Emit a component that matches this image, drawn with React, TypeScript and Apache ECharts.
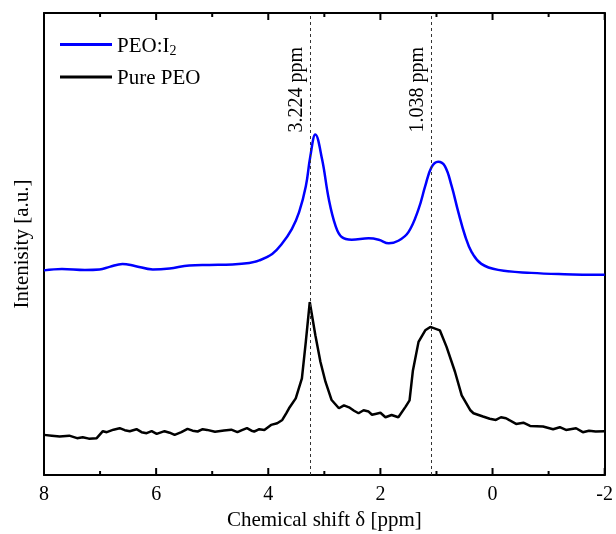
import React, { useEffect, useRef } from "react";
import * as echarts from "echarts";

// Chemical shift (ppm) and intensity (a.u.) for PEO:I2
const peoI2Shift = [8.0, 7.68, 7.27, 7.01, 6.83, 6.6, 6.38, 6.06, 5.76, 5.41, 5.05, 4.64, 4.34, 4.16, 3.93, 3.76, 3.58, 3.45, 3.33, 3.25, 3.16, 3.04, 2.92, 2.8, 2.69, 2.51, 2.21, 2.03, 1.85, 1.68, 1.5, 1.32, 1.2, 1.09, 0.97, 0.85, 0.73, 0.61, 0.49, 0.37, 0.2, -0.1, -0.69, -1.28, -2.0];
const peoI2Int = [205.5, 207, 206, 206.5, 209, 212, 210, 206.5, 207.5, 210.5, 211, 211.5, 213, 215.5, 222, 232, 247, 264, 290, 320, 342, 317, 277, 250.3, 239, 236.3, 237.7, 236.3, 232.7, 235.3, 244, 267, 290.3, 309, 314.7, 310.3, 290.3, 264, 240.3, 223.7, 212, 206, 203, 201.7, 201];

// Chemical shift (ppm) and intensity (a.u.) for pure PEO
const pureShift = [8.0, 7.86, 7.72, 7.55, 7.41, 7.31, 7.2, 7.06, 6.95, 6.88, 6.76, 6.65, 6.56, 6.47, 6.35, 6.26, 6.17, 6.08, 5.99, 5.85, 5.76, 5.67, 5.55, 5.44, 5.35, 5.26, 5.17, 5.09, 4.95, 4.79, 4.66, 4.55, 4.47, 4.38, 4.3, 4.25, 4.16, 4.07, 3.95, 3.84, 3.75, 3.68, 3.63, 3.51, 3.4, 3.33, 3.26, 3.16, 3.07, 2.98, 2.87, 2.74, 2.65, 2.56, 2.47, 2.39, 2.3, 2.21, 2.15, 2.09, 2.0, 1.91, 1.8, 1.68, 1.55, 1.48, 1.42, 1.32, 1.2, 1.11, 0.94, 0.82, 0.67, 0.55, 0.4, 0.34, 0.17, 0.05, -0.06, -0.15, -0.24, -0.42, -0.55, -0.67, -0.9, -1.08, -1.2, -1.31, -1.49, -1.61, -1.72, -1.84, -2.0];
const pureInt = [40.3, 39.5, 38.7, 39.5, 37, 38, 36.5, 37, 44, 43, 45.5, 47, 45, 44, 46, 43, 42, 44, 41.3, 44, 42.5, 40.3, 43, 46.3, 44.5, 43.7, 46, 45.3, 43.5, 44.7, 45.5, 43, 45, 47, 44.5, 43.7, 46, 45.3, 50.3, 52, 55.3, 62, 67, 77, 97, 134, 173.7, 140.3, 113.7, 93.7, 75.3, 67, 70, 68, 64.5, 62, 65, 63.7, 60.5, 61.3, 62.5, 58, 60.3, 58, 68.7, 75, 105, 133.7, 145.3, 148.7, 145.3, 128.7, 103.7, 80, 65.3, 62, 58.7, 56.5, 55.3, 58, 57, 51.3, 52.5, 49.3, 48.7, 46, 48, 45.3, 47, 43, 44.5, 43.7, 44];

// Reference peak lines
const peakShift = [3.26, 1.1];
const peakLabel = ["3.224 ppm", "1.038 ppm"];

// Axis ticks (ppm)
const majorTicks = [8, 6, 4, 2, 0, -2];
const minorTicks = [7, 5, 3, 1, -1];

const seriesNames = ["PEO:I2", "Pure PEO"];
const seriesColors = ["#0000ff", "#000000"];

const Y_MIN = 0;
const Y_MAX = 464;
const FONT = "'Liberation Serif', 'Times New Roman', serif";

export default function App() {
  const ref = useRef<HTMLDivElement>(null);
  useEffect(() => {
    if (!ref.current) return;
    const chart = echarts.init(ref.current, undefined, { renderer: "svg" });
    const zip = (xs: number[], ys: number[]) => xs.map((x, i) => [x, ys[i]]);
    const xCommon = {
      type: "value" as const,
      min: -2,
      max: 8,
      interval: 2,
      inverse: true,
      axisLine: { show: true, onZero: false, lineStyle: { color: "#000", width: 2 } },
      axisTick: { show: false },
      splitLine: { show: false },
    };
    const yCommon = {
      type: "value" as const,
      min: Y_MIN,
      max: Y_MAX,
      axisLine: { show: true, onZero: false, lineStyle: { color: "#000", width: 2 } },
      axisTick: { show: false },
      axisLabel: { show: false },
      splitLine: { show: false },
    };
    const tickData = [
      ...majorTicks.map((v) => [v, 7]),
      ...minorTicks.map((v) => [v, 4]),
    ];
    chart.setOption({
      animation: false,
      grid: { left: 44, right: 9, top: 13, bottom: 57 },
      legend: {
        orient: "vertical",
        left: 60,
        top: 34,
        padding: 0,
        itemWidth: 52,
        itemHeight: 14,
        itemGap: 9,
        icon: "path://M0,0 L52,0 L52,3 L0,3 Z",
        data: seriesNames,
        textStyle: {
          fontFamily: FONT,
          fontSize: 21,
          color: "#000",
          rich: {
            sub: { fontFamily: FONT, fontSize: 14, verticalAlign: "bottom", padding: [12, 0, 0, 0] },
          },
        },
        formatter: (name: string) => (name === "PEO:I2" ? "PEO:I{sub|2}" : name),
      },
      xAxis: [
        {
          ...xCommon,
          position: "bottom",
          name: "Chemical shift δ [ppm]",
          nameLocation: "middle",
          nameGap: 33,
          nameTextStyle: { fontFamily: FONT, fontSize: 21, color: "#000" },
          axisLabel: { show: true, fontFamily: FONT, fontSize: 20, color: "#000", margin: 8, showMinLabel: true, showMaxLabel: true },
        },
        {
          ...xCommon,
          position: "top",
          axisLabel: { show: false },
        },
      ],
      yAxis: [
        {
          ...yCommon,
          position: "left",
          name: "Intenisity [a.u.]",
          nameLocation: "middle",
          nameGap: 13,
          nameTextStyle: { fontFamily: FONT, fontSize: 21, color: "#000" },
        },
        { ...yCommon, position: "right" },
      ],
      series: [
        {
          name: seriesNames[0],
          type: "line",
          xAxisIndex: 0,
          yAxisIndex: 0,
          data: zip(peoI2Shift, peoI2Int),
          smooth: 0.4,
          symbol: "none",
          lineStyle: { color: seriesColors[0], width: 2.5 },
          itemStyle: { color: seriesColors[0] },
          markLine: {
            silent: true,
            symbol: "none",
            lineStyle: { color: "#333", width: 1, type: [3, 3] },
            label: {
              show: true,
              position: "insideEndTop",
              distance: [34, 5],
              fontFamily: FONT,
              fontSize: 20,
              color: "#000",
              formatter: (p: any) => peakLabel[p.dataIndex],
            },
            data: peakShift.map((v) => ({ xAxis: v })),
          },
        },
        {
          name: seriesNames[1],
          type: "line",
          xAxisIndex: 0,
          yAxisIndex: 0,
          data: zip(pureShift, pureInt),
          symbol: "none",
          lineStyle: { color: seriesColors[1], width: 2.5 },
          itemStyle: { color: seriesColors[1] },
        },
        {
          name: "ticks",
          type: "custom",
          xAxisIndex: 0,
          yAxisIndex: 0,
          silent: true,
          clip: false,
          data: tickData,
          renderItem: (_params: any, api: any) => {
            const v = api.value(0);
            const len = api.value(1);
            const b = api.coord([v, Y_MIN]);
            const t = api.coord([v, Y_MAX]);
            const style = { stroke: "#000", lineWidth: 2 };
            return {
              type: "group",
              children: [
                { type: "line", shape: { x1: b[0], y1: b[1], x2: b[0], y2: b[1] - len }, style },
                { type: "line", shape: { x1: t[0], y1: t[1], x2: t[0], y2: t[1] + len }, style },
              ],
            };
          },
        },
      ],
    });
    return () => chart.dispose();
  }, []);
  return <div ref={ref} style={{ position: "fixed", left: 0, top: 0, width: 616, height: 534 }} />;
}
